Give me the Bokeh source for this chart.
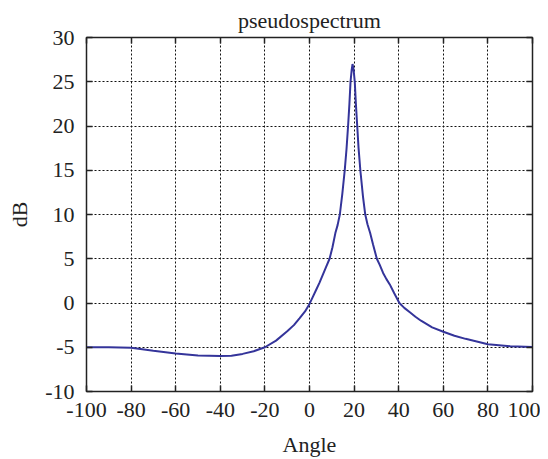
from bokeh.plotting import figure
from bokeh.models import LinearAxis, FixedTicker, Range1d
from bokeh.embed import file_html
from bokeh.resources import INLINE

# Data
angle = [-100, -90, -80, -70, -60, -50, -40, -35, -30, -25, -20, -15, -10, -7, -4.5, -2, 0,
         1.5, 3, 4.5, 6, 7.5, 9, 10.3, 11.6, 12.6, 13.6, 14.7, 15.8, 16.6, 17.3, 17.9, 18.4, 18.9, 19.3,
         19.8, 20.3, 20.8, 21.4, 22.0, 22.8, 24.0, 25.0, 26.0, 27.2, 28.5, 30.2,
         31.5, 33, 34.5, 36, 38, 40.3, 42.5, 45, 47.5, 50, 55, 60, 65, 70, 80, 90, 100]
db = [-5.0, -5.0, -5.05, -5.4, -5.7, -5.92, -6.0, -5.95, -5.75, -5.45, -5.0, -4.25, -3.2, -2.5, -1.73, -0.95, -0.1,
      0.7, 1.5, 2.3, 3.2, 4.1, 5.0, 6.3, 7.9, 8.8, 10.0, 12.3, 15.0, 17.4, 20.0, 22.5, 25.0, 26.3, 27.0,
      26.3, 25.0, 22.5, 20.0, 17.5, 15.0, 12.0, 10.0, 8.9, 7.9, 6.6, 5.0,
      4.3, 3.4, 2.7, 2.1, 1.1, 0.0, -0.55, -1.05, -1.55, -2.0, -2.75, -3.25, -3.7, -4.05, -4.65, -4.88, -4.97]

x_ticks = [-100, -80, -60, -40, -20, 0, 20, 40, 60, 80, 100]
y_ticks = [-10, -5, 0, 5, 10, 15, 20, 25, 30]
x_tick_labels = ["-100", "-80", "-60", "-40", "-20", "0", "20", "40", "60", "80", "100"]
y_tick_labels = ["-10", "-5", "0", "5", "10", "15", "20", "25", "30"]

FONT = "Liberation Serif"
FS = "22px"
INK = "#222222"

p = figure(frame_width=446, frame_height=354,
           x_range=Range1d(-100, 100), y_range=Range1d(-10, 30),
           output_backend="svg", toolbar_location=None,
           min_border_left=86, min_border_right=8, min_border_top=31, min_border_bottom=56,
           title="pseudospectrum")

p.title.text_font = FONT
p.title.text_font_size = FS
p.title.text_font_style = "normal"
p.title.text_color = INK
p.title.align = "center"

p.outline_line_color = INK
p.outline_line_width = 1.5
p.background_fill_color = "white"
p.border_fill_color = "white"

for g, ticks in ((p.xgrid, x_ticks), (p.ygrid, y_ticks)):
    g.ticker = FixedTicker(ticks=ticks)
    g.grid_line_color = "#111111"
    g.grid_line_dash = "2 2"
    g.grid_line_width = 1

def style_axis(ax, ticks, labels):
    ax.ticker = FixedTicker(ticks=ticks)
    ax.axis_line_color = INK
    ax.major_tick_line_color = INK
    ax.major_tick_line_width = 1.5
    ax.major_tick_in = 6
    ax.major_tick_out = 0
    ax.minor_tick_line_color = None
    ax.major_label_overrides = {t: l for t, l in zip(ticks, labels)}
    ax.major_label_text_font = FONT
    ax.major_label_text_font_size = FS
    ax.major_label_text_color = INK
    ax.axis_label_text_font = FONT
    ax.axis_label_text_font_size = FS
    ax.axis_label_text_font_style = "normal"
    ax.axis_label_text_color = INK

style_axis(p.xaxis[0], x_ticks, x_tick_labels)
style_axis(p.yaxis[0], y_ticks, y_tick_labels)
p.xaxis[0].axis_label = "Angle"
p.yaxis[0].axis_label = "dB"
p.xaxis[0].major_label_standoff = 11
p.yaxis[0].major_label_standoff = 12
p.xaxis[0].axis_label_standoff = 12
p.yaxis[0].axis_label_standoff = 10

top = LinearAxis()
right = LinearAxis()
style_axis(top, x_ticks, [""] * len(x_ticks))
style_axis(right, y_ticks, [""] * len(y_ticks))
top.major_label_standoff = 0
right.major_label_standoff = 0
p.add_layout(top, "above")
p.add_layout(right, "right")

p.line(angle, db, line_color="#34349a", line_width=2)

open("out.html", "w").write(file_html(p, INLINE))
